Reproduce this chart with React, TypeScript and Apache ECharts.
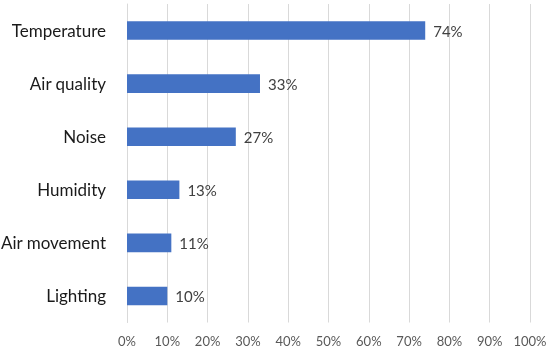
import React, { useEffect, useRef } from "react";
import * as echarts from "echarts";

const categories = ["Temperature", "Air quality", "Noise", "Humidity", "Air movement", "Lighting"];
const values = [74, 33, 27, 13, 11, 10];

export default function App() {
  const ref = useRef<HTMLDivElement>(null);
  useEffect(() => {
    if (!ref.current) return;
    const chart = echarts.init(ref.current, null, { renderer: "svg" });
    const font = "Lato, 'Open Sans', sans-serif";
    chart.setOption({
      animation: false,
      grid: { left: 127, right: 20, top: 4, bottom: 28.5, containLabel: false, outerBoundsMode: "none" },
      xAxis: {
        type: "value",
        min: 0,
        max: 100,
        interval: 10,
        axisLine: { show: false },
        axisTick: { show: false },
        splitLine: { show: true, lineStyle: { color: "#d9d9d9", width: 1 } },
        axisLabel: { formatter: "{value}%", color: "#595959", fontSize: 13, fontFamily: font, margin: 12 },
      },
      yAxis: {
        type: "category",
        data: categories,
        inverse: true,
        axisLine: { show: true, lineStyle: { color: "#d9d9d9" } },
        axisTick: { show: false },
        axisLabel: { color: "#1a1a1a", fontSize: 17, fontFamily: font, margin: 21 },
      },
      series: [
        {
          type: "bar",
          data: values,
          barCategoryGap: "65%",
          itemStyle: { color: "#4472C4" },
          label: {
            show: true,
            position: "right",
            distance: 8,
            formatter: "{c}%",
            color: "#404040",
            fontSize: 15,
            fontFamily: font,
          },
        },
      ],
    });
    return () => chart.dispose();
  }, []);
  return <div ref={ref} style={{ position: "fixed", left: 0, top: 0, width: 550, height: 351 }} />;
}
